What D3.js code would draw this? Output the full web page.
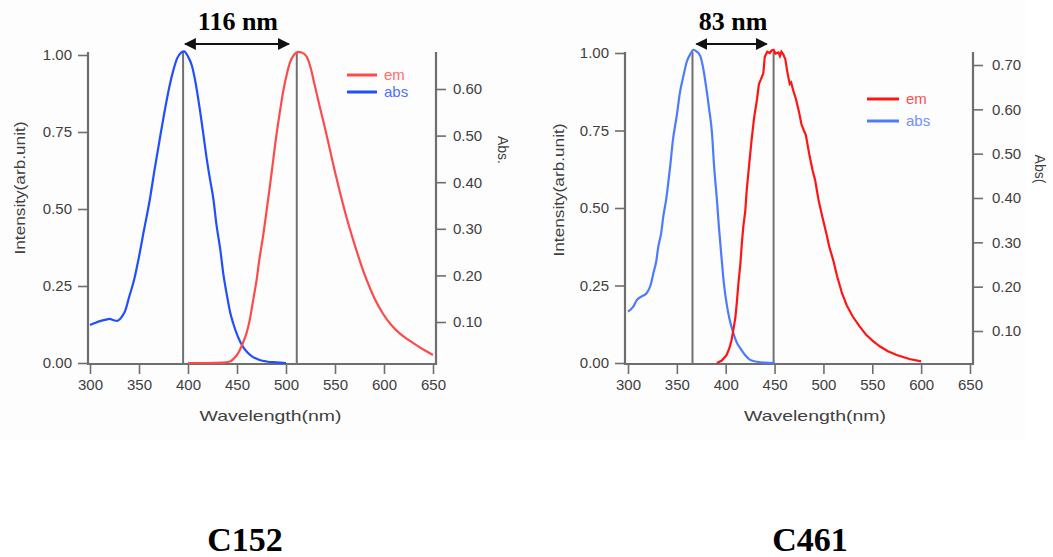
<!DOCTYPE html>
<html>
<head>
<meta charset="utf-8">
<script src="https://cdn.jsdelivr.net/npm/d3@7"></script>
<style>
  body { margin: 0; background: #fff; }
  svg { display: block; font-family: "Liberation Sans", Arial, sans-serif; }
</style>
</head>
<body>
<div id="chart"></div>
<script>
// ---- data (wavelength nm, normalised intensity) ----
const c152Abs = [[300,0.123],[305,0.130],[310,0.136],[315,0.140],[320,0.143],[325,0.138],[328,0.137],[332,0.148],[336,0.170],[340,0.215],[345,0.270],[350,0.345],[355,0.430],[361,0.530],[366,0.630],[371,0.724],[376,0.815],[381,0.897],[385,0.950],[389,0.990],[393,1.008],[396,1.012],[400,0.995],[404,0.965],[408,0.905],[412,0.825],[416,0.735],[419,0.665],[422,0.605],[426,0.530],[429,0.450],[433,0.367],[436,0.290],[440,0.215],[443,0.165],[446,0.130],[451,0.085],[456,0.053],[461,0.033],[466,0.020],[473,0.010],[480,0.005],[490,0.002],[500,0.000]];
const c152Em = [[400,0.0],[420,0.0],[435,0.001],[443,0.005],[447,0.015],[450,0.026],[453,0.043],[456,0.065],[460,0.100],[463,0.140],[466,0.195],[470,0.270],[473,0.340],[477,0.420],[480,0.490],[483,0.560],[487,0.660],[490,0.735],[494,0.820],[497,0.880],[501,0.940],[504,0.975],[508,1.000],[512,1.010],[516,1.008],[521,0.995],[525,0.960],[528,0.920],[532,0.865],[535,0.825],[540,0.760],[545,0.690],[550,0.620],[555,0.555],[562,0.470],[569,0.395],[575,0.335],[582,0.272],[590,0.212],[599,0.160],[607,0.125],[616,0.096],[625,0.075],[633,0.058],[641,0.042],[650,0.026]];
const c461Abs = [[300,0.166],[305,0.180],[309,0.203],[314,0.215],[319,0.225],[323,0.250],[326,0.290],[329,0.330],[331,0.375],[334,0.420],[336,0.470],[339,0.526],[343,0.630],[346,0.720],[350,0.800],[353,0.870],[357,0.930],[360,0.970],[364,0.998],[367,1.010],[370,1.005],[374,0.990],[377,0.950],[380,0.890],[383,0.820],[386,0.740],[388,0.640],[391,0.526],[393,0.440],[396,0.330],[398,0.260],[401,0.190],[404,0.140],[408,0.095],[411,0.068],[415,0.047],[420,0.025],[425,0.010],[432,0.004],[440,0.001],[450,0.000]];
const c461Em = [[391,0.0],[396,0.008],[401,0.026],[404,0.050],[406,0.074],[408,0.110],[410,0.150],[411.5,0.200],[413,0.257],[415,0.320],[416.5,0.386],[418,0.440],[420,0.490],[421.5,0.558],[424,0.640],[426.5,0.720],[429,0.790],[432,0.850],[434,0.900],[436,0.915],[438.5,0.935],[440,0.988],[442.5,1.004],[445,1.000],[447,1.008],[449,1.010],[451,0.998],[454,1.002],[455.5,0.990],[457,1.004],[459,0.995],[461,0.980],[463,0.940],[465.5,0.900],[467,0.905],[469,0.880],[472,0.850],[475,0.810],[477.5,0.770],[480,0.750],[482,0.735],[486,0.665],[489,0.620],[491.5,0.590],[495,0.526],[499,0.470],[503,0.418],[506,0.375],[510,0.332],[514,0.280],[519,0.225],[524,0.185],[530,0.150],[537,0.118],[544,0.090],[551,0.070],[558,0.053],[566,0.038],[575,0.026],[588,0.013],[600,0.005]];

const c152Peaks = [395, 511];
const c461Peaks = [366, 449];
const shiftLabels = ["116 nm", "83 nm"];
const dyeNames = ["C152", "C461"];

const xTicks = [300, 350, 400, 450, 500, 550, 600, 650];
const yTicks = [0, 0.25, 0.5, 0.75, 1.0];
const absTicksA = [0.1, 0.2, 0.3, 0.4, 0.5, 0.6];
const absTicksB = [0.1, 0.2, 0.3, 0.4, 0.5, 0.6, 0.7];

const W = 1053, H = 557;
const svg = d3.select("#chart").append("svg").attr("width", W).attr("height", H);

svg.append("rect").attr("x", 0).attr("y", 0).attr("width", 1026).attr("height", 441).attr("fill", "#fdfdfd");

const axisCol = "#6e6e6e", textCol = "#404040";

function drawPanel(p) {
    let g = svg.append("g");

    let x = d3.scaleLinear().domain([300, 650]).range([p.x0, p.x1]);
    let y = d3.scaleLinear().domain([0, 1]).range([p.yZero, p.yOne]);
    let yR = d3.scaleLinear().domain(p.absDomain).range(p.absRange);

    // minor + major ticks
    let minorX = d3.range(300, 651, 10);
    let minorY = d3.range(0, 1.001, 0.05);
    let minorR = d3.range(0.02, 0.8, 0.02).filter(v => yR(v) >= p.top && yR(v) <= p.bottom);

    let gx = g.append("g").attr("transform", "translate(0," + p.bottom + ")");
    gx.call(d3.axisBottom(x).tickValues(minorX).tickSize(5).tickFormat(""));
    gx.call(d3.axisBottom(x).tickValues(xTicks).tickSize(10).tickPadding(5).tickFormat(d3.format("d")));

    let gy = g.append("g").attr("transform", "translate(" + p.left + ",0)");
    gy.call(d3.axisLeft(y).tickValues(minorY).tickSize(6).tickFormat(""));
    gy.call(d3.axisLeft(y).tickValues(yTicks).tickSize(10).tickPadding(6).tickFormat(d3.format(".2f")));

    let gr = g.append("g").attr("transform", "translate(" + p.right + ",0)");
    gr.call(d3.axisRight(yR).tickValues(minorR).tickSize(6).tickFormat(""));
    gr.call(d3.axisRight(yR).tickValues(p.absTicks).tickSize(10).tickPadding(p.absPad).tickFormat(d3.format(".2f")));

    g.selectAll(".domain").remove();
    g.selectAll(".tick line").attr("stroke", axisCol).attr("stroke-width", 1.6);
    g.selectAll(".tick text").attr("fill", textCol).style("font-size", "15px");

    // frame: left, bottom, right
    g.append("path")
        .attr("d", "M" + p.left + "," + p.top + "V" + p.bottom + "H" + p.right + "V" + p.top)
        .attr("fill", "none").attr("stroke", axisCol).attr("stroke-width", 2.2);

    // peak markers
    g.selectAll(".peak").data(p.peaks).enter().append("line")
        .attr("x1", d => x(d)).attr("x2", d => x(d))
        .attr("y1", p.top).attr("y2", p.bottom)
        .attr("stroke", "#707070").attr("stroke-width", 2);

    let line = d3.line().x(d => x(d[0])).y(d => y(d[1]));
    g.append("path").datum(p.abs).attr("d", line.curve(d3.curveMonotoneX))
        .attr("fill", "none").attr("stroke", p.absCol).attr("stroke-width", 2.2);
    g.append("path").datum(p.em).attr("d", line.curve(p.emCurve))
        .attr("fill", "none").attr("stroke", p.emCol).attr("stroke-width", 2.2);

    // shift arrow + label
    g.append("line")
        .attr("x1", x(p.peaks[0]) + p.arrowPad[0]).attr("x2", x(p.peaks[1]) - p.arrowPad[1])
        .attr("y1", 44).attr("y2", 44)
        .attr("stroke", "#111").attr("stroke-width", 2)
        .attr("marker-start", "url(#arrS)").attr("marker-end", "url(#arrE)");
    g.append("text")
        .attr("x", (x(p.peaks[0]) + x(p.peaks[1])) / 2 + p.labelDx).attr("y", 30)
        .attr("text-anchor", "middle")
        .style("font-family", "'Liberation Serif', 'Times New Roman', serif")
        .style("font-weight", "bold").style("font-size", "26px")
        .text(p.shift);

    // legend
    let leg = g.append("g").attr("transform", "translate(" + p.legX + "," + p.legY + ")");
    [["em", p.emCol, p.emText], ["abs", p.absCol, p.absText]].forEach((d, i) => {
        leg.append("line").attr("x1", 0).attr("x2", p.legW).attr("y1", i * p.legGap).attr("y2", i * p.legGap)
            .attr("stroke", d[1]).attr("stroke-width", 3);
        leg.append("text").attr("x", p.legW + 7).attr("y", i * p.legGap + 5)
            .attr("fill", d[2]).style("font-size", "15px").text(d[0]);
    });

    // axis titles
    g.append("text")
        .attr("x", (p.x0 + p.x1) / 2 + p.xTitleDx).attr("y", 421)
        .attr("text-anchor", "middle").attr("fill", textCol).style("font-size", "15px")
        .attr("textLength", 142).attr("lengthAdjust", "spacingAndGlyphs")
        .text("Wavelength(nm)");
    g.append("text")
        .attr("transform", "translate(" + p.yTitleX + "," + p.yTitleY + ") rotate(-90)")
        .attr("text-anchor", "middle").attr("fill", textCol).style("font-size", "15px")
        .attr("textLength", 133).attr("lengthAdjust", "spacingAndGlyphs")
        .text("Intensity(arb.unit)");
    g.append("text")
        .attr("transform", "translate(" + p.absTitleX + "," + p.absTitleY + ") rotate(90)")
        .attr("text-anchor", "middle").attr("fill", textCol).style("font-size", "14px")
        .text(p.absTitle);

    // dye name
    g.append("text")
        .attr("x", p.nameX).attr("y", 551).attr("text-anchor", "middle")
        .style("font-family", "'Liberation Serif', 'Times New Roman', serif")
        .style("font-weight", "bold").style("font-size", "34px")
        .text(p.name);
}

// arrow heads
let defs = svg.append("defs");
defs.append("marker").attr("id", "arrE").attr("viewBox", "0 0 10 10").attr("refX", 9).attr("refY", 5)
    .attr("markerWidth", 6).attr("markerHeight", 6).attr("markerUnits", "strokeWidth").attr("orient", "auto")
    .append("path").attr("d", "M0,0L10,5L0,10Z").attr("fill", "#111");
defs.append("marker").attr("id", "arrS").attr("viewBox", "0 0 10 10").attr("refX", 1).attr("refY", 5)
    .attr("markerWidth", 6).attr("markerHeight", 6).attr("markerUnits", "strokeWidth").attr("orient", "auto")
    .append("path").attr("d", "M10,0L0,5L10,10Z").attr("fill", "#111");

drawPanel({
    x0: 90, x1: 433, left: 88, right: 436, top: 52, bottom: 364, yZero: 363, yOne: 55,
    absDomain: [0.1, 0.6], absRange: [322, 89], absTicks: absTicksA, absPad: 7,
    abs: c152Abs, em: c152Em, absCol: "#1f4fff", emCol: "#ff4a4a", emCurve: d3.curveMonotoneX,
    absText: "#4d72ff", emText: "#ff6a6a",
    peaks: c152Peaks, arrowPad: [2, 8], shift: shiftLabels[0], labelDx: -2,
    legX: 347, legY: 75, legW: 30, legGap: 17,
    xTitleDx: 9, yTitleX: 25, yTitleY: 188,
    absTitle: "Abs.", absTitleX: 498, absTitleY: 150,
    name: dyeNames[0], nameX: 245
});

drawPanel({
    x0: 628, x1: 970, left: 625, right: 973, top: 52, bottom: 364, yZero: 363, yOne: 53,
    absDomain: [0.1, 0.7], absRange: [331, 65], absTicks: absTicksB, absPad: 9,
    abs: c461Abs, em: c461Em, absCol: "#4d7aff", emCol: "#ff1414", emCurve: d3.curveLinear,
    absText: "#7090ff", emText: "#ff5050",
    peaks: c461Peaks, arrowPad: [4, 7], shift: shiftLabels[1], labelDx: 0,
    legX: 867, legY: 99, legW: 32, legGap: 22,
    xTitleDx: 16, yTitleX: 564, yTitleY: 190,
    absTitle: "Abs(", absTitleX: 1035, absTitleY: 169,
    name: dyeNames[1], nameX: 810
});
</script>
</body>
</html>
